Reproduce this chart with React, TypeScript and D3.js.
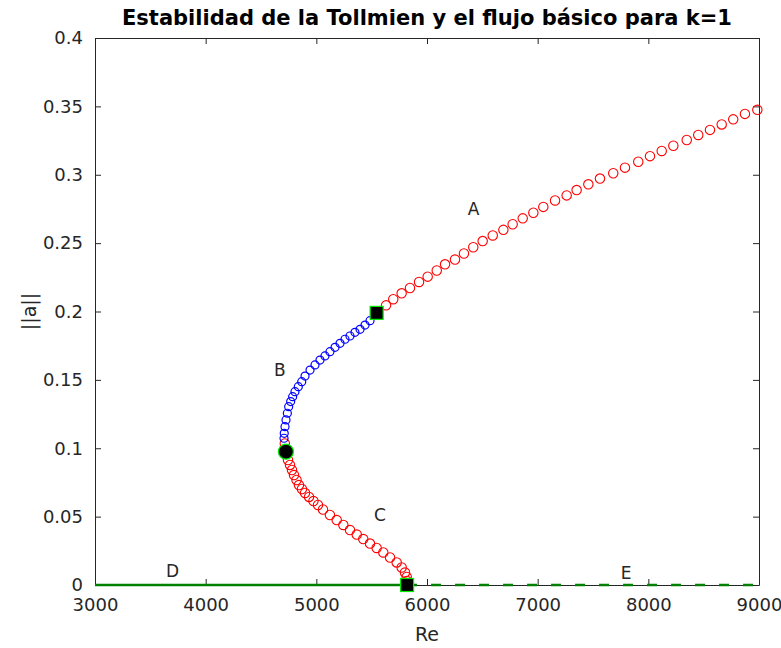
import { useRef, useEffect } from 'react';
import * as d3 from 'd3';

// rama A (estable, rojo): Re, ||a||
const reA = [5630, 5695, 5771, 5846, 5928, 6006, 6088, 6163, 6253, 6334, 6418, 6503, 6594, 6690, 6774, 6865, 6961, 7051, 7157, 7262, 7352, 7458, 7563, 7683, 7789, 7909, 8015, 8121, 8226, 8347, 8451, 8557, 8663, 8767, 8873, 8985];
const ampA = [0.2045, 0.2090, 0.2133, 0.2172, 0.2216, 0.2255, 0.2300, 0.2345, 0.2380, 0.2424, 0.2470, 0.2515, 0.2556, 0.2597, 0.2638, 0.2681, 0.2722, 0.2765, 0.2812, 0.2849, 0.2888, 0.2930, 0.2972, 0.3011, 0.3052, 0.3095, 0.3136, 0.3174, 0.3212, 0.3254, 0.3291, 0.3328, 0.3368, 0.3405, 0.3445, 0.3475];

// rama B (inestable, azul)
const reB = [5485, 5440, 5395, 5349, 5304, 5259, 5214, 5169, 5123, 5078, 5033, 4988, 4943, 4898, 4868, 4837, 4807, 4786, 4768, 4750, 4738, 4726, 4717, 4710, 4708];
const ampB = [0.1933, 0.1901, 0.1870, 0.1848, 0.1821, 0.1797, 0.1767, 0.1738, 0.1706, 0.1675, 0.1645, 0.1609, 0.1572, 0.1528, 0.1487, 0.1450, 0.1414, 0.1377, 0.1341, 0.1304, 0.1256, 0.1207, 0.1158, 0.1109, 0.1073];

// rama C (rojo)
const reC = [4715, 4744, 4762, 4780, 4798, 4821, 4843, 4870, 4898, 4934, 4974, 5015, 5060, 5123, 5184, 5244, 5304, 5365, 5424, 5485, 5545, 5605, 5666, 5726, 5771, 5801, 5817, 5819];
const ampC = [0.1035, 0.0914, 0.0878, 0.0841, 0.0804, 0.0768, 0.0731, 0.0702, 0.0673, 0.0644, 0.0614, 0.0585, 0.0552, 0.0512, 0.0475, 0.0439, 0.0402, 0.0369, 0.0336, 0.0303, 0.0271, 0.0238, 0.0201, 0.0165, 0.0128, 0.0091, 0.0059, 0.0029];

// puntos de bifurcacion
const bifSquares = [[5545, 0.1990], [5820, 0]];
const bifCircle = [4725, 0.0975];

// flujo basico
const baseStable = [3000, 5820];
const baseUnstable = [5820, 9000];

const branchLabels = ['A', 'B', 'C', 'D', 'E'];
const labelRe = [6420, 4670, 5575, 3700, 7800];
const labelAmp = [0.275, 0.157, 0.051, 0.010, 0.009];

const xTicks = [3000, 4000, 5000, 6000, 7000, 8000, 9000];
const yTicks = [0, 0.05, 0.1, 0.15, 0.2, 0.25, 0.3, 0.35, 0.4];

export default function App() {
  const svgRef = useRef(null);

  useEffect(() => {
    const width = 781;
    const height = 648;
    const m = { left: 95, right: 22, top: 38, bottom: 63 };
    const font = '"DejaVu Sans", Verdana, sans-serif';
    const axisColor = '#262626';

    const svg = d3.select(svgRef.current)
      .attr('width', width)
      .attr('height', height);
    svg.selectAll('*').remove();

    const x = d3.scaleLinear().domain([3000, 9000]).range([m.left, width - m.right]);
    const y = d3.scaleLinear().domain([0, 0.4]).range([height - m.bottom, m.top]);

    const g = svg.append('g');

    // axes box
    const axFmt = (d) => String(d);
    const bottom = g.append('g').attr('transform', `translate(0,${y(0)})`)
      .call(d3.axisBottom(x).tickValues(xTicks).tickFormat(axFmt).tickSizeInner(-6).tickSizeOuter(0).tickPadding(13));
    const top = g.append('g').attr('transform', `translate(0,${y(0.4)})`)
      .call(d3.axisTop(x).tickValues(xTicks).tickFormat(() => '').tickSizeInner(-6).tickSizeOuter(0));
    const left = g.append('g').attr('transform', `translate(${x(3000)},0)`)
      .call(d3.axisLeft(y).tickValues(yTicks).tickFormat(axFmt).tickSizeInner(-6).tickSizeOuter(0).tickPadding(12));
    const right = g.append('g').attr('transform', `translate(${x(9000)},0)`)
      .call(d3.axisRight(y).tickValues(yTicks).tickFormat(() => '').tickSizeInner(-6).tickSizeOuter(0));

    [bottom, top, left, right].forEach(a => {
      a.select('.domain').attr('stroke', axisColor).attr('stroke-width', 1);
      a.selectAll('.tick line').attr('stroke', axisColor);
      a.selectAll('.tick text').attr('fill', axisColor).style('font-family', font).style('font-size', '18px');
    });

    // base flow
    const line = d3.line().x(d => x(d)).y(() => y(0));
    g.append('path').attr('d', line(baseStable)).attr('stroke', '#008000').attr('stroke-width', 2.5).attr('fill', 'none');
    g.append('path').attr('d', line(baseUnstable)).attr('stroke', '#008000').attr('stroke-width', 2.5)
      .attr('stroke-dasharray', '10,14').attr('fill', 'none');

    const drawBranch = (re, amp, color, r, w) => {
      g.append('g').selectAll('circle').data(re).join('circle')
        .attr('cx', d => x(d))
        .attr('cy', (d, i) => y(amp[i]))
        .attr('r', r)
        .attr('fill', 'none')
        .attr('stroke', color)
        .attr('stroke-width', w);
    };
    drawBranch(reC, ampC, '#ff0000', 4.7, 1.1);
    drawBranch(reB, ampB, '#0000ff', 4, 1.2);
    drawBranch(reA, ampA, '#ff0000', 4.7, 1.1);

    // bifurcation markers
    g.selectAll('rect.bif').data(bifSquares).join('rect')
      .attr('class', 'bif')
      .attr('x', d => x(d[0]) - 6.5)
      .attr('y', d => y(d[1]) - 6.5)
      .attr('width', 13).attr('height', 13)
      .attr('fill', '#000').attr('stroke', '#00ee00').attr('stroke-width', 1.2);
    g.append('circle')
      .attr('cx', x(bifCircle[0])).attr('cy', y(bifCircle[1])).attr('r', 7.5)
      .attr('fill', '#000').attr('stroke', '#00ee00').attr('stroke-width', 1.2);

    // branch labels
    g.append('g').selectAll('text').data(branchLabels).join('text')
      .attr('x', (d, i) => x(labelRe[i]))
      .attr('y', (d, i) => y(labelAmp[i]))
      .attr('text-anchor', 'middle')
      .attr('dy', '0.35em')
      .style('font-family', font).style('font-size', '17px').attr('fill', axisColor)
      .text(d => d);

    // title + axis labels
    svg.append('text')
      .attr('x', (m.left + width - m.right) / 2).attr('y', 25)
      .attr('text-anchor', 'middle')
      .style('font-family', font).style('font-size', '21px').style('font-weight', 'bold')
      .attr('fill', '#000')
      .text('Estabilidad de la Tollmien y el flujo básico para k=1');
    svg.append('text')
      .attr('x', (m.left + width - m.right) / 2).attr('y', 641)
      .attr('text-anchor', 'middle')
      .style('font-family', font).style('font-size', '19px')
      .attr('fill', axisColor)
      .text('Re');
    svg.append('text')
      .attr('transform', `translate(36,${(m.top + height - m.bottom) / 2}) rotate(-90)`)
      .attr('text-anchor', 'middle')
      .style('font-family', font).style('font-size', '19px')
      .attr('fill', axisColor)
      .text('||a||');
  }, []);

  return (
    <svg ref={svgRef} style={{ position: 'absolute', left: 0, top: 0, background: '#fff' }} />
  );
}
